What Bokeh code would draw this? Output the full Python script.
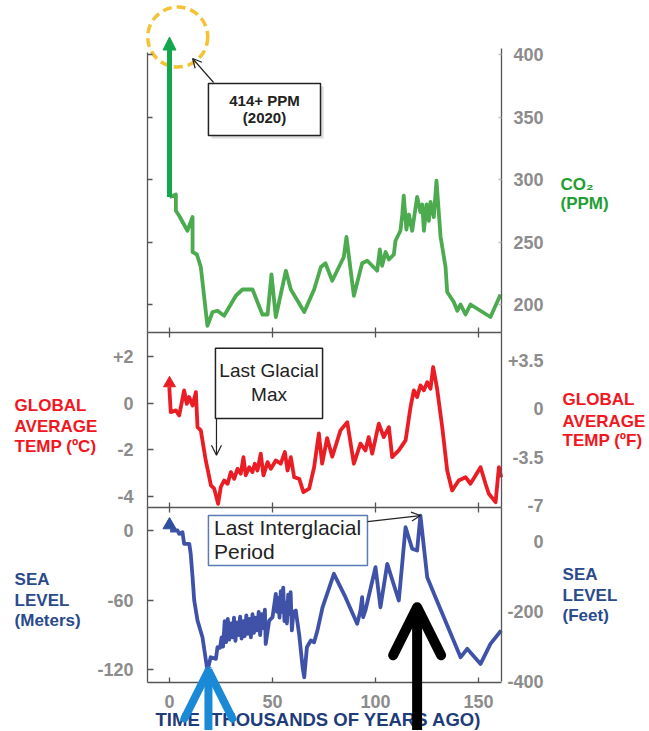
from bokeh.plotting import figure
from bokeh.models import (Range1d, LinearAxis, FixedTicker, Label, Arrow,
                          OpenHead, NormalHead, BoxAnnotation)
from bokeh.embed import file_html
from bokeh.resources import INLINE

# ---------------- data ----------------
age_ticks = [0, 50, 100, 150]

co2_age = [0, 3.1, 3.1, 4.7, 8.7, 11.2, 11.2, 13.3,
           15.2, 18.4, 20.9, 23.3, 26.5, 32.2, 35.4, 40.3,
           45.1, 47.6, 49.5, 51.6, 56.5, 58.9, 65.4, 70.2,
           73.5, 75.7, 79.0, 84.6, 85.9, 89.5, 93.5, 96.0,
           100.8, 102.1, 103.2, 104.9, 106.5, 108.9, 109.7, 112.1,
           113.0, 113.7, 115.0, 116.2, 117.8, 120.2, 121.8, 122.7,
           123.5, 124.8, 125.9, 126.7, 128.3, 129.6, 131.6, 134.0,
           134.8, 138.0, 139.7, 141.3, 143.7, 146.1, 155.8, 160.7]
co2_ppm = [286, 288, 275, 271, 259, 270, 242, 240,
           230, 183, 194, 195, 191, 207, 212, 212,
           192, 192, 224, 190, 227, 212, 194, 212,
           230, 233, 219, 238, 254, 207, 233, 235,
           227, 244, 231, 242, 236, 240, 251, 259,
           272, 287, 260, 272, 259, 286, 274, 280,
           259, 280, 267, 282, 270, 299, 254, 230,
           210, 202, 195, 200, 192, 200, 190, 208]
co2_now = 414          # 2020
co2_ticks = [200, 250, 300, 350, 400]

temp_age = [-0.1, 0.6, 3.1, 4.7, 5.5, 7.1, 8.4, 9.5,
            11.2, 12.8, 13.6, 15.2, 17.6, 19.3, 20.1, 21.7,
            23.6, 24.9, 26.5, 28.2, 29.8, 31.4, 33.0, 34.6,
            35.9, 37.0, 38.7, 40.3, 41.4, 42.7, 44.3, 45.6,
            47.6, 49.2, 51.6, 54.0, 56.0, 57.3, 58.9, 60.5,
            63.0, 65.0, 67.8, 70.2, 72.5, 74.1, 76.5, 79.0,
            83.0, 86.3, 89.5, 92.7, 95.1, 96.7, 98.4, 101.6,
            104.0, 106.5, 108.1, 111.3, 114.6, 117.0, 118.6, 120.2,
            121.8, 123.5, 125.1, 126.7, 128.0, 129.9, 132.4, 134.8,
            137.2, 140.4, 143.7, 146.1, 151.0, 153.4, 155.0, 158.3,
            159.9, 161.0]
temp_c = [0.69, -0.39, -0.31, -0.53, -0.17, 0.55, -0.03, 0.26,
          -0.10, 0.47, -1.03, -1.17, -2.46, -3.18, -3.53, -3.67,
          -4.32, -3.60, -3.32, -3.46, -2.96, -3.25, -2.82, -3.03,
          -2.32, -3.10, -2.75, -2.96, -2.60, -2.89, -2.17, -3.10,
          -2.53, -2.82, -2.46, -2.60, -2.10, -2.89, -2.32, -3.18,
          -3.25, -3.82, -3.67, -2.75, -1.30, -2.60, -1.50, -2.30,
          -1.17, -0.82, -2.60, -1.74, -2.03, -1.46, -2.17, -0.88,
          -1.46, -1.03, -2.32, -2.03, -1.60, -0.17, 0.55, 0.26,
          0.76, 0.55, 0.90, 0.62, 1.55, 0.62, -1.03, -2.89,
          -3.75, -3.32, -3.18, -3.46, -2.75, -3.46, -3.89, -4.25,
          -2.75, -3.18]
temp_now = 0.85
temp_c_ticks = [2, 0, -2, -4]
temp_c_labels = ["+2", "0", "-2", "-4"]
temp_f_ticks = [3.5, 0, -3.5, -7]
temp_f_labels = ["+3.5", "0", "-3.5", "-7"]

sea_age = [0.3, 3.9, 4.7, 6.3, 7.1, 9.6, 10.3, 11.2,
           12.0, 13.6, 16.0, 18.4, 20.0, 22.5, 23.3, 24.5,
           25.3, 26.0, 26.8, 27.5, 28.3, 29.0, 29.8, 30.5,
           31.3, 32.0, 32.8, 33.5, 34.3, 35.0, 35.8, 36.5,
           37.3, 38.0, 38.8, 39.5, 40.3, 41.0, 41.8, 42.5,
           43.3, 44.0, 44.8, 45.5, 46.3, 46.7, 48.4, 50.0,
           51.6, 52.2, 52.8, 53.4, 54.0, 54.6, 55.2, 55.8,
           56.4, 57.0, 57.6, 58.2, 58.8, 59.4, 60.2, 61.3,
           63.0, 64.6, 65.4, 66.7, 68.6, 70.2, 71.8, 74.3,
           79.8, 85.4, 91.1, 92.7, 93.5, 94.0, 95.1, 100.0,
           102.4, 105.7, 111.3, 114.6, 117.8, 120.2, 121.8, 125.1,
           129.1, 141.3, 144.5, 151.0, 155.8, 161.0]
sea_m = [0.3, 0.3, -2.6, -1.2, -11.2, -11.2, -19.9, -40.1,
         -60.2, -77.5, -91.9, -120.6, -109.2, -110.6, -100.5, -101,
         -92, -100, -78, -96, -76, -94, -80, -92,
         -75, -95, -79, -90, -74, -93, -78, -91,
         -73, -89, -76, -92, -72, -88, -75, -86,
         -70, -90, -72, -84, -68, -97.6, -77.5, -74.6,
         -54.4, -70, -58, -75, -52, -70, -49, -78,
         -62, -80, -55, -72, -53, -86, -70, -68.8,
         -90.4, -117.8, -126.4, -100.5, -94.7, -96.2, -86.1, -66.0,
         -37.1, -57.3, -80.3, -68.8, -57.3, -74.6, -68.8, -31.4,
         -66.0, -28.5, -60.2, 3.1, -15.5, -17.0, 13.2, -40.1,
         -57.3, -109.2, -101.9, -114.9, -97.6, -86.1]
sea_now = 5
sea_m_ticks = [0, -60, -120]
sea_m_labels = ["0", "-60", "-120"]
sea_ft_ticks = [0, -200, -400]
sea_ft_labels = ["0", "-200", "-400"]

lgm_age, lgm_sea = 18.9, -120.6          # blue arrow tip (Last Glacial Max)
lig_age, lig_sea = 120.2, -66.0          # black arrow tip (Last Interglacial)
lig_peak_age, lig_peak_sea = 121.8, 13.2

# ---------------- style ----------------
FONT = "Liberation Sans"
GRAY = "#8c8c8c"
AXIS = "#555555"
GREEN_LINE = "#4caa4f"
GREEN = "#1f9e34"
GREEN_ARROW = "#14a64c"
RED = "#ea1c24"
RED_TXT = "#f2161e"
BLUE_LINE = "#3f52a8"
BLUE_TXT = "#2a4a8c"
TITLE_BLUE = "#1f3c7a"

# panel limits (age) and panel edges (in CO2 units of the default range)
X0, X1 = -10.68, 161.17
EDGE_1, EDGE_2, EDGE_3 = 177.6, 37.6, -102.4
X_RIGHT_LBL = 181.55
X_SIDE_L = -75.2
X_SIDE_R = 190.8

p = figure(width=648, height=730, x_range=Range1d(-82.04, 232.52),
           y_range=Range1d(-140.8, 443.2),
           output_backend="svg", toolbar_location=None,
           x_axis_location=None, y_axis_location=None, min_border=0)
p.extra_y_ranges = {"temp": Range1d(-14.05, 17.28), "tempF": Range1d(-23.30, 29.57),
                    "sea": Range1d(-172.4, 457.9), "seaft": Range1d(-540, 1545.7)}
p.grid.visible = False
p.outline_line_color = None
p.background_fill_color = "white"
p.border_fill_color = "white"


def style_axis(ax, show_labels, standoff=12, tick_in=5, tick_out=0, tick_color=AXIS):
    ax.minor_tick_line_color = None
    ax.major_tick_out = tick_out
    ax.major_tick_in = tick_in
    ax.axis_line_color = AXIS
    ax.axis_line_width = 1.3
    ax.major_tick_line_color = tick_color
    ax.major_tick_line_width = 1.3
    if show_labels:
        ax.major_label_text_font = FONT
        ax.major_label_text_font_size = "18px"
        ax.major_label_text_font_style = "bold"
        ax.major_label_text_color = GRAY
        ax.major_label_standoff = standoff
    else:
        ax.major_label_text_color = None
    return ax


def vaxis(side, rng, ticks, bounds, labels=None, tick_in=6, tick_color=AXIS):
    ax = LinearAxis(ticker=FixedTicker(ticks=ticks), bounds=bounds,
                    fixed_location=X0 if side == "left" else X1, y_range_name=rng)
    if labels:
        ax.major_label_overrides = dict(zip(ticks, labels))
    style_axis(ax, labels is not None, standoff=14, tick_in=tick_in, tick_color=tick_color)
    p.add_layout(ax, side)


def haxis(loc, tick_in, tick_out, labels=False):
    ax = LinearAxis(ticker=FixedTicker(ticks=age_ticks), bounds=(X0, X1), fixed_location=loc)
    style_axis(ax, labels, standoff=12, tick_in=tick_in, tick_out=tick_out)
    p.add_layout(ax, "below")


def text(x, y, s, color, size="17px", bold=True, align="left", rng="default"):
    p.add_layout(Label(x=x, y=y, text=s, text_color=color, text_font=FONT,
                       text_font_size=size, text_font_style="bold" if bold else "normal",
                       text_align=align, text_baseline="middle", y_range_name=rng))


def right_labels(ticks, labels, rng="default"):
    for t, s in zip(ticks, labels):
        text(X_RIGHT_LBL, t, s, GRAY, size="18px", align="right", rng=rng)


def box(left, right, top, bottom, line_color="#222222", rng="default"):
    p.add_layout(BoxAnnotation(left=left, right=right, top=top, bottom=bottom,
                               fill_color="white", fill_alpha=1, line_color=line_color,
                               line_alpha=1, line_width=1.5, y_range_name=rng))


def thin_arrow(x0, y0, x1, y1, size=9, rng="default"):
    p.add_layout(Arrow(x_start=x0, y_start=y0, x_end=x1, y_end=y1, line_color="#222222",
                       line_width=1.2, y_range_name=rng,
                       end=OpenHead(size=size, line_color="#222222", line_width=1.2)))


# ---------------- frames / axes ----------------
vaxis("left", "default", co2_ticks, (EDGE_1, 401.6), tick_in=5)
vaxis("right", "default", co2_ticks, (EDGE_1, 404.8), tick_in=3, tick_color="#bbbbbb")
vaxis("left", "temp", temp_c_ticks, (-4.48, 3.03), labels=temp_c_labels)
vaxis("right", "tempF", temp_f_ticks, (-7.15, 5.53), tick_in=0)
vaxis("left", "sea", sea_m_ticks, (-130.9, 20.1), labels=sea_m_labels)
vaxis("right", "seaft", sea_ft_ticks, (-400, 97.1), tick_in=0)
haxis(EDGE_1, 5, 5)
haxis(EDGE_2, 5, 5)
haxis(EDGE_3, 5, 0, labels=True)

right_labels(co2_ticks, [str(v) for v in co2_ticks])
right_labels(temp_f_ticks, temp_f_labels, rng="tempF")
right_labels(sea_ft_ticks, sea_ft_labels, rng="seaft")

# ---------------- CO2 panel ----------------
p.line(co2_age, co2_ppm, line_color=GREEN_LINE, line_width=3.8, line_join="round")
p.add_layout(Arrow(x_start=co2_age[0], y_start=co2_ppm[0], x_end=co2_age[0], y_end=co2_now,
                   line_color=GREEN_ARROW, line_width=5,
                   end=NormalHead(size=13, fill_color=GREEN_ARROW, line_color=GREEN_ARROW,
                                  line_width=1)))
p.scatter(x=[co2_age[0] + 4], y=[co2_now], marker="circle", size=60, fill_color=None,
          line_color="#f4c232", line_width=3.5, line_dash="9 5")

p.add_layout(BoxAnnotation(left=20.4, right=74.8, top=374.4, bottom=332.8,
                           fill_color="#c4c4c4", fill_alpha=0.6, line_color=None))
box(18.9, 73.3, 376.8, 335.2)
text(46.1, 363.2, "414+ PPM", "#222222", size="15px", align="center")
text(46.1, 349.6, "(2020)", "#222222", size="15px", align="center")
thin_arrow(21.4, 377.6, 11.2, 396.8)
text(X_SIDE_R - 1, 296, "CO\u2082", GREEN)
text(X_SIDE_R - 1, 280.8, "(PPM)", GREEN)

# ---------------- temperature panel ----------------
p.line(temp_age, temp_c, line_color=RED, line_width=3.8, line_join="round", y_range_name="temp")
p.scatter(x=[0], y=[temp_now], marker="triangle", size=12, color=RED, y_range_name="temp")

box(22.3, 74.3, 2.35, -0.66, rng="temp")
text(48.3, 1.42, "Last Glacial", "#222222", size="19px", bold=False, align="center", rng="temp")
text(48.3, 0.39, "Max", "#222222", size="19px", bold=False, align="center", rng="temp")
thin_arrow(22.8, -0.66, 22.8, -2.24, size=10, rng="temp")
for yv, s in zip([-0.10, -1.02, -1.88], ["GLOBAL", "AVERAGE", "TEMP (\u00baC)"]):
    text(X_SIDE_L, yv, s, RED_TXT, rng="temp")
for yv, s in zip([0.16, -0.79, -1.60], ["GLOBAL", "AVERAGE", "TEMP (\u00baF)"]):
    text(X_SIDE_R, yv, s, RED_TXT, rng="temp")

# ---------------- sea level panel ----------------
p.line(sea_age, sea_m, line_color=BLUE_LINE, line_width=3.8, line_join="round", y_range_name="sea")
p.scatter(x=[0], y=[sea_now], marker="triangle", size=13, color="#2f4f9e", y_range_name="sea")

box(18.9, 96.1, 13.2, -30.0, line_color="#5b7bb8", rng="sea")
text(21.6, 2.85, "Last Interglacial", "#222222", size="21px", bold=False, rng="sea")
text(21.6, -17.9, "Period", "#222222", size="21px", bold=False, rng="sea")
thin_arrow(96.1, 8.0, lig_peak_age, lig_peak_sea, rng="sea")
for yv, s in zip([-42.1, -60.2, -77.0], ["SEA", "LEVEL", "(Meters)"]):
    text(X_SIDE_L, yv, s, BLUE_TXT, rng="sea")
for yv, s in zip([-38.0, -55.7, -73.0], ["SEA", "LEVEL", "(Feet)"]):
    text(X_SIDE_R, yv, s, BLUE_TXT, rng="sea")

text(72.3, -163.0, "TIME (THOUSANDS OF YEARS AGO)", TITLE_BLUE, size="18.5px",
     align="center", rng="sea")

p.add_layout(Arrow(x_start=lgm_age, y_start=-180, x_end=lgm_age, y_end=lgm_sea,
                   line_color="#1b8ad6", line_width=8, line_cap="round", y_range_name="sea",
                   end=OpenHead(size=48, line_color="#1b8ad6", line_width=8, line_cap="round")))
p.add_layout(Arrow(x_start=lig_age, y_start=-180, x_end=lig_age, y_end=lig_sea,
                   line_color="black", line_width=10, line_cap="round", y_range_name="sea",
                   end=OpenHead(size=48, line_color="black", line_width=10, line_cap="round")))

open("out.html", "w").write(file_html(p, INLINE))
